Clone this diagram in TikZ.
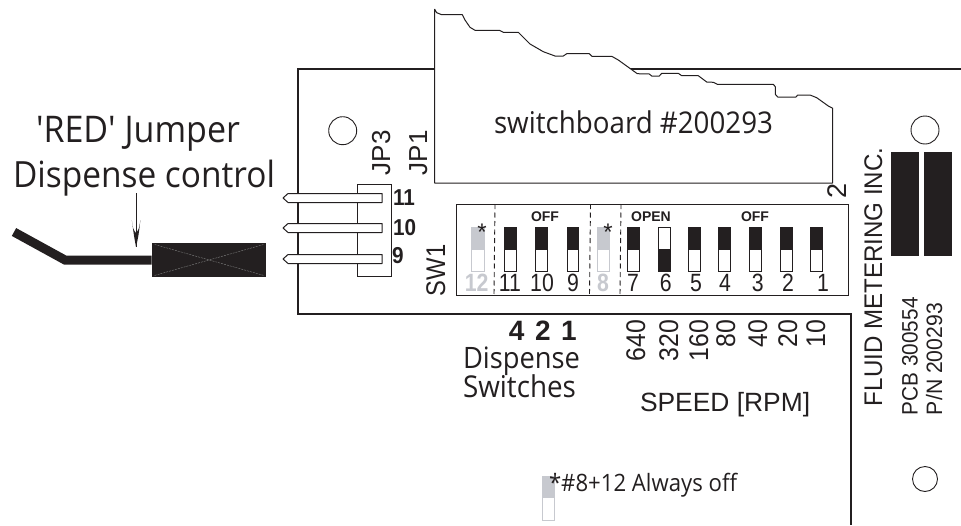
\documentclass[tikz,border=0pt]{standalone}
\usepackage{fontspec}
\setmainfont{Open Sans}
\newfontfamily\arial{Liberation Sans}
\usetikzlibrary{calc}
\definecolor{ink}{HTML}{231F20}
\definecolor{dipgray}{HTML}{C7C9CF}
\newcommand{\fs}[1]{\fontsize{#1}{#1}\selectfont}
\newcommand{\fitw}[2]{\scalebox{1}[1.08]{\resizebox{#1pt}{!}{#2}}}
\tikzset{
  pcbline/.style={draw=ink,line width=1.1pt},
  lbl/.style={inner sep=0pt,outer sep=0pt,text=ink},
  my/.style={lbl,font=\fs{#1}},
  ar/.style={lbl,font=\arial\fs{#1}},
  arb/.style={lbl,font=\arial\bfseries\fs{#1}},
  hole/.style={draw=ink,line width=0.9pt,fill=white},
  pin/.style={draw=ink,line width=1pt,fill=white},
  dipdash/.style={draw=ink,line width=0.9pt,dash pattern=on 5pt off 3.5pt},
}
\begin{document}
\begin{tikzpicture}[x=1pt,y=-1pt]
\useasboundingbox (0,0) rectangle (961,525);
% board
\coordinate (bTR) at (961,69);
\coordinate (bTL) at (298,69);
\coordinate (bBL) at (298,314);
\coordinate (bBR) at (851,314);
\coordinate (bEnd) at (851,525);
\draw[pcbline] (bTR) -- (bTL) -- (bBL) -- (bBR) -- (bEnd);
% switchboard
\draw[pcbline,line width=1pt,fill=white,line join=round]
 (434.7,9.3) -- (436.7,12.7) -- (441.7,14.7) -- (462.3,14.7) -- (465,20) -- (470,27.3) -- (475,30.3) -- (499.3,30.3) -- (503.3,32.3) -- (518.3,32.3) -- (530,44) -- (543.3,51.7) -- (555,56) -- (563.3,56) -- (566.7,53.7) -- (589.3,53.7) -- (592,56.3) -- (611.7,56.3) -- (618.3,60) -- (637.3,73.7) -- (649.3,74) -- (651.7,76) -- (659.3,76) -- (661.7,73.3) -- (678.3,73.3) -- (681.7,75.7) -- (698.3,75.7) -- (706.7,82) -- (713.3,82.3) -- (717.3,84.3) -- (773.3,84.3) -- (775.3,86.7) -- (775.3,94.3) -- (777.7,97) -- (796,97) -- (797.7,95) -- (810,95) -- (816.7,97.7) -- (828.3,106) -- (832.7,108.3) -- (832.7,183) -- (434.7,183) -- cycle;
\node[my=29,anchor=base west] (sb) at (494,133) {\fitw{279}{switchboard \#200293}};
% holes
\node[hole,circle,minimum size=28pt,inner sep=0pt] (h1) at (342.7,130.7) {};
\node[hole,circle,minimum size=28pt,inner sep=0pt] (h2) at (925,130) {};
\node[hole,circle,minimum size=25pt,inner sep=0pt] (h3) at (925,479) {};
% black blocks
\fill[ink] (891,152) rectangle (919,256);
\fill[ink] (924,152) rectangle (952,256);
% board labels
\node[ar=25.5,rotate=90,anchor=base west] (fluid) at (882,406) {\scalebox{0.945}[1]{FLUID METERING INC.}};
\node[ar=22.3,rotate=90,anchor=base west] (pcb) at (917.7,415) {\scalebox{0.93}[1]{PCB 300554}};
\node[ar=22.3,rotate=90,anchor=base west] (pn) at (942,415) {\scalebox{0.95}[1]{P/N 200293}};
\node[ar=26,rotate=90,anchor=base west] (jp3) at (390,175) {JP3};
\node[ar=26,rotate=90,anchor=base west] (jp1) at (427,175) {JP1};
\node[ar=27,rotate=90,anchor=base west] (sw1) at (445,296) {\scalebox{0.88}[1]{SW1}};
\node[ar=27,rotate=90,anchor=base west] (two) at (846,198) {2};
% jumper header
\draw[draw=ink,line width=1pt] (357,184) rectangle (391,276);
\foreach \n/\y in {a/198,b/228,c/259}{
  \draw[pin,line join=round] (382,\y-4.5) -- (288,\y-4.5) -- (283,\y) -- (288,\y+4.5) -- (382,\y+4.5) -- cycle;
}
\node[arb=23,anchor=base west] (p11) at (393,205) {\scalebox{0.9}[1]{11}};
\node[arb=23,anchor=base west] (p10) at (393,235) {\scalebox{0.9}[1]{10}};
\node[arb=23,anchor=base west] (p9) at (392,263) {\scalebox{0.9}[1]{9}};
% wire and connector
\coordinate (w0) at (14,232);
\coordinate (w1) at (65,260);
\node[fill=ink,draw=none,minimum width=114.5pt,minimum height=34.5pt,inner sep=0pt,anchor=north west] (plug) at (151.7,242.5) {};
\draw[ink,line width=9pt,line join=miter] (w0) -- (w1) -- (plug.west |- w1);
\draw[gray,line width=0.4pt,dash pattern=on 2pt off 1pt] ($(plug.north west)+(3,2)$) -- ($(plug.south east)+(-3,-2)$) ($(plug.south west)+(3,-2)$) -- ($(plug.north east)+(-3,2)$);
% arrow
\coordinate (a0) at (136,193);
\coordinate (a1) at (136,247);
\draw[ink,line width=1pt] (a0) -- (a1);
\fill[ink] (a1) .. controls (134,236) .. (131.8,220) .. controls (133,229) .. (136,233) .. controls (139,229) .. (140.4,220) .. controls (138.5,236) .. (a1);
% headline
\node[my=36,anchor=base west] (t1) at (36,142.7) {\fitw{204}{\textquotesingle RED\textquotesingle{} Jumper}};
\node[my=36,anchor=base west] (t2) at (13,187.3) {\fitw{262}{Dispense control}};
% DIP box
\draw[draw=ink,line width=1pt,fill=white] (456,204) rectangle (848,295);
\foreach \x in {494.5,590,620.5}{ \draw[dipdash] (\x+0.5,204) -- (\x-0.5,295); }
\foreach \l/\r in {504/517,535/548.3,566.7/579.3,626.7/640,688.3/701,718.3/731,749/762.3,780/792.7,810.3/823}{
  \fill[ink] (\l,226.7) rectangle (\r,249);
  \draw[draw=ink,line width=1pt,fill=white] (\l+0.5,249) rectangle (\r-0.5,271.5);
}
\fill[white] (658,226.7) rectangle (670.7,249);
\draw[draw=ink,line width=1pt] (658.5,227.2) rectangle (670.2,249);
\fill[ink] (658,249) rectangle (670.7,271.7);
\foreach \l/\r in {471/484.7,596.7/610}{
  \fill[dipgray] (\l,226.7) rectangle (\r,249);
  \draw[draw=dipgray,line width=1pt,fill=white] (\l+0.5,249) rectangle (\r-0.5,271.5);
}
\foreach \n/\x in {11/510,10/542,9/573,7/633,6/665.7,5/696,4/725,3/757.7,2/788,1/823}{
  \node[ar=25,anchor=base] (n\n) at (\x,291.7) {\scalebox{0.85}[1]{\n}};
}
\node[arb=25,anchor=base,text=dipgray] (n12) at (476.7,291.7) {\scalebox{0.85}[1]{12}};
\node[arb=25,anchor=base,text=dipgray] (n8) at (603,291.7) {\scalebox{0.85}[1]{8}};
\node[ar=24,anchor=base] (st1) at (482,240) {*};
\node[ar=24,anchor=base] (st2) at (608,240) {*};
\node[arb=14,anchor=base] (off1) at (545,221) {OFF};
\node[arb=14,anchor=base] (open) at (651,221) {OPEN};
\node[arb=14,anchor=base] (off2) at (755,221) {OFF};
% lower labels
\node[arb=28,anchor=base] (d4) at (516.7,340) {4};
\node[arb=28,anchor=base] (d2) at (543,340) {2};
\node[arb=28,anchor=base] (d1) at (569,340) {1};
\node[my=29,anchor=base west] (ds1) at (463,368) {\fitw{117}{Dispense}};
\node[my=29,anchor=base west] (ds2) at (463,397) {\fitw{113}{Switches}};
\foreach \t/\x in {640/645,320/678,160/708,80/735,40/767,20/797,10/825}{
  \node[ar=27,rotate=90,anchor=base east] (r\t) at (\x,320) {\scalebox{0.92}[1]{\t}};
}
\node[ar=26.4,anchor=base west] (speed) at (640,411.7) {SPEED [RPM]};
% legend
\fill[dipgray] (542.3,476) rectangle (555,497.7);
\draw[draw=dipgray,line width=1pt,fill=white] (542.8,497.7) rectangle (554.5,520.5);
\node[my=22.5,anchor=base west] (leg) at (549,491.7) {\fitw{188}{*\#8+12 Always off}};
\end{tikzpicture}
\end{document}
